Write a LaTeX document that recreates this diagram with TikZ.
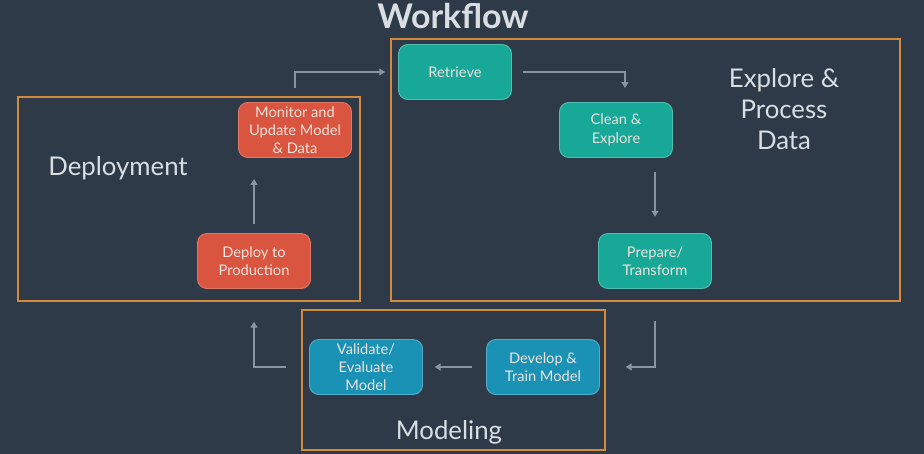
\documentclass[tikz,border=0pt]{standalone}
\usepackage{fontspec}
\setmainfont{Lato}
\usetikzlibrary{arrows.meta,calc}
\definecolor{bgslate}{HTML}{2E3A48}
\definecolor{frameorange}{HTML}{D28B3C}
\definecolor{deployred}{HTML}{D9553F}
\definecolor{exploreteal}{HTML}{17A898}
\definecolor{modelblue}{HTML}{1A92B6}
\definecolor{flowgrey}{HTML}{8794A3}
\definecolor{labeltext}{HTML}{D9DEE4}
\definecolor{boxtext}{HTML}{EDE3DE}

\begin{document}
\begin{tikzpicture}[x=0.03cm,y=-0.03cm,
  stage/.style={rounded corners=8, minimum width=113*0.03cm, minimum height=55*0.03cm,
    inner sep=2pt, align=center, text=boxtext, font=\fontsize{12.5}{15.6}\selectfont, line width=0.8pt},
  redstage/.style={stage, fill=deployred, draw=deployred!80!white},
  tealstage/.style={stage, fill=exploreteal, draw=exploreteal!75!white},
  bluestage/.style={stage, fill=modelblue, draw=modelblue!75!white},
  frame/.style={draw=frameorange, line width=1.6pt},
  biglabel/.style={text=labeltext, align=center, font=\fontsize{22}{26.5}\selectfont},
  flow/.style={draw=flowgrey, line width=1pt, -{Triangle[width=6pt,length=5pt]}}]
\useasboundingbox [fill=bgslate] (0,0) rectangle (924,454);

% title
\node [text=labeltext, font=\fontsize{29}{32}\selectfont\bfseries] (title) at (453,16) {Workflow};

% the three frames
\draw [frame] (18,97) rectangle (360,301);
\draw [frame] (391,39) rectangle (900,301);
\draw [frame] (302,310) rectangle (605,450);

\node [biglabel] (deploylbl) at (118,168) {Deployment};
\node [biglabel] (explorelbl) at (784,109) {Explore \&\\Process\\Data};
\node [biglabel] (modellbl) at (449,432) {Modeling};

% stages
\node [redstage] (monitor) at (295,130) {Monitor and\\Update Model\\\& Data};
\node [redstage] (deploy) at (254,261) {Deploy to\\Production};
\node [tealstage] (retrieve) at (455,72) {Retrieve};
\node [tealstage] (clean) at (616,130) {Clean \&\\Explore};
\node [tealstage] (prepare) at (655,261) {Prepare/\\Transform};
\node [bluestage] (validate) at (366,367) {Validate/\\Evaluate\\Model};
\node [bluestage] (develop) at (543,367) {Develop \&\\Train Model};

% connectors
\draw [flow, shorten <=12, shorten >=11] (monitor.north) |- (retrieve.west);
\draw [flow, shorten <=9, shorten >=12] (retrieve.east) -| ($(clean.north)+(9,0)$);
\draw [flow, shorten <=12, shorten >=14] (prepare.north |- clean.south) -- (prepare.north);
\draw [flow, shorten <=27, shorten >=22] (prepare.south) |- (develop.east);
\draw [flow, shorten <=12, shorten >=10] (develop.west) -- (validate.east);
\draw [flow, shorten <=20, shorten >=28] (validate.west) -| (deploy.south);
\draw [flow, shorten <=8, shorten >=18] (deploy.north) -- (deploy.north |- monitor.south);
\end{tikzpicture}
\end{document}
